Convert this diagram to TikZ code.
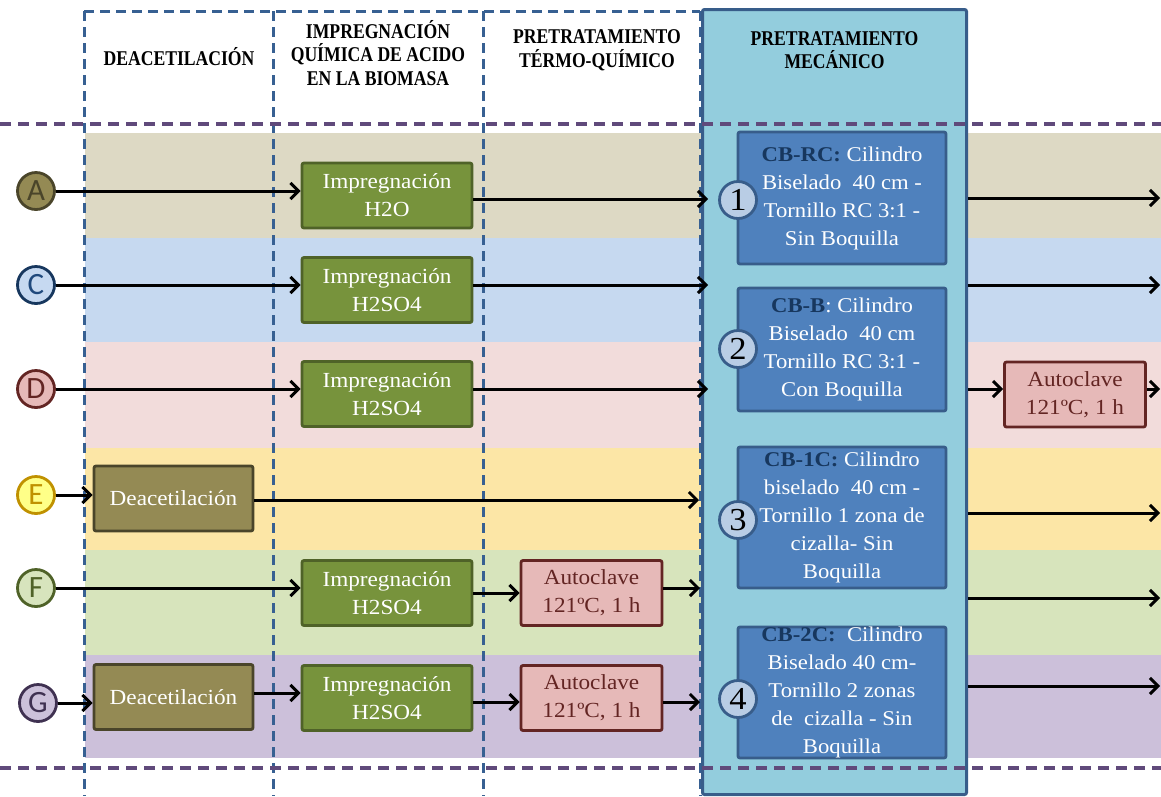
\documentclass[tikz,border=0pt]{standalone}
\usepackage{fontspec}
\setmainfont{Liberation Serif}
\newfontfamily\boxfont{Liberation Serif}[FakeStretch=1.08]
\newfontfamily\headfont{Liberation Serif}[FakeStretch=0.84]
\newfontfamily\letfont{Carlito}
\usetikzlibrary{arrows.meta}

% band and box palette
\definecolor{bandA}{HTML}{DDD9C4}
\definecolor{bandC}{HTML}{C6D9F0}
\definecolor{bandD}{HTML}{F2DCDB}
\definecolor{bandE}{HTML}{FCE6A6}
\definecolor{bandF}{HTML}{D7E4BC}
\definecolor{bandG}{HTML}{CCC0DA}
\definecolor{colline}{HTML}{376092}
\definecolor{rowline}{HTML}{604A7B}
\definecolor{mechfill}{HTML}{93CDDD}
\definecolor{mechdraw}{HTML}{385D8A}
\definecolor{bluefill}{HTML}{4F81BD}
\definecolor{navy}{HTML}{17375E}
\definecolor{numfill}{HTML}{B9CDE5}
\definecolor{grfill}{HTML}{77933C}
\definecolor{grdraw}{HTML}{4F6228}
\definecolor{olfill}{HTML}{948A54}
\definecolor{oldraw}{HTML}{4A452A}
\definecolor{rdfill}{HTML}{E6B9B8}
\definecolor{rddraw}{HTML}{632523}
\definecolor{cfill}{HTML}{C6D9F1}
\definecolor{cdraw}{HTML}{17375E}
\definecolor{ctext}{HTML}{1F497D}
\definecolor{efill}{HTML}{FFFF88}
\definecolor{edraw}{HTML}{C09100}
\definecolor{ffill}{HTML}{D7E4BD}
\definecolor{gfill}{HTML}{CCC1DA}
\definecolor{gdraw}{HTML}{3F3151}

\tikzset{
  vdash/.style={colline, line width=3pt, dash pattern=on 10pt off 6pt},
  hdash/.style={rowline, line width=3.2pt, dash pattern=on 11pt off 7pt},
  headtxt/.style={align=center, font=\headfont\bfseries\fontsize{21}{23.5}\selectfont, inner sep=0pt},
  procbox/.style={draw, rounded corners=2pt, line width=2.8pt, inner sep=0pt, align=center,
    font=\boxfont\fontsize{21.5}{28}\selectfont},
  impbox/.style={procbox, fill=grfill, draw=grdraw, text=white, minimum width=170pt, minimum height=65pt},
  deacbox/.style={procbox, fill=olfill, draw=oldraw, text=white, minimum width=159pt, minimum height=65pt},
  autobox/.style={procbox, fill=rdfill, draw=rddraw, text=rddraw, minimum width=141pt, minimum height=65pt},
  bluebox/.style={procbox, fill=bluefill, draw=mechdraw, text=white, minimum width=208pt,
    font=\boxfont\fontsize{21}{28}\selectfont},
  numc/.style={circle, draw=mechdraw, fill=numfill, line width=2.8pt, minimum size=37pt, inner sep=0pt,
    font=\boxfont\fontsize{32}{32}\selectfont},
  letc/.style={circle, line width=2.8pt, minimum size=37pt, inner sep=0pt,
    font=\letfont\fontsize{31}{31}\selectfont},
  arr/.style={line width=3pt, -{Straight Barb[length=8pt,width=16pt]}},
}

\begin{document}
\begin{tikzpicture}[x=1pt,y=-1pt]
\useasboundingbox (0,0) rectangle (1161,796);

% coloured rows
\fill[bandA] (85,133) rectangle (1161,238);
\fill[bandC] (85,238) rectangle (1161,342);
\fill[bandD] (85,342) rectangle (1161,448);
\fill[bandE] (85,448) rectangle (1161,550);
\fill[bandF] (85,550) rectangle (1161,655);
\fill[bandG] (85,655) rectangle (1161,758);

% stage columns
\draw[vdash] (84,11) -- (700,11);
\draw[vdash] (84,11) -- (84,796);
\draw[vdash] (273,11) -- (273,796);
\draw[vdash] (483,11) -- (483,796);
\draw[vdash] (700,11) -- (700,796);

% mechanical stage panel
\node[draw=mechdraw, fill=mechfill, line width=3pt, rounded corners=2pt,
      minimum width=264pt, minimum height=785pt, inner sep=0pt] (mech) at (834.5,402) {};

% row separators
\draw[hdash] (0,124) -- (1161,124);
\draw[hdash] (0,768) -- (1161,768);

% column headings
\node[headtxt] (hD) at (179,57) {DEACETILACIÓN};
\node[headtxt] (hI) at (378,53) {IMPREGNACIÓN\\QUÍMICA DE ACIDO\\EN LA BIOMASA};
\node[headtxt] (hT) at (597,50) {PRETRATAMIENTO\\TÉRMO-QUÍMICO};
\node[headtxt] (hM) at (834.5,50) {PRETRATAMIENTO\\MECÁNICO};

% sample markers
\node[letc, fill=olfill, draw=oldraw, text=oldraw] (cA) at (36,191) {A};
\node[letc, fill=cfill, draw=cdraw, text=ctext] (cC) at (36,285) {C};
\node[letc, fill=rdfill, draw=rddraw, text=rddraw] (cD) at (36,389) {D};
\node[letc, fill=efill, draw=edraw, text=edraw] (cE) at (36,495) {E};
\node[letc, fill=ffill, draw=grdraw, text=grdraw] (cF) at (36,588) {F};
\node[letc, fill=gfill, draw=gdraw, text=gdraw] (cG) at (38,703) {G};

% deacetylation
\node[deacbox] (dE) at (173.5,498.5) {Deacetilación};
\node[deacbox] (dG) at (173.5,697) {Deacetilación};

% impregnation
\node[impbox] (gA) at (387,195.5) {Impregnación\\H2O};
\node[impbox] (gC) at (387,290) {Impregnación\\H2SO4};
\node[impbox] (gD) at (387,394) {Impregnación\\H2SO4};
\node[impbox] (gF) at (387,593) {Impregnación\\H2SO4};
\node[impbox] (gG) at (387,698) {Impregnación\\H2SO4};

% autoclave
\node[autobox] (aF) at (591.5,593) {Autoclave\\121ºC, 1 h};
\node[autobox] (aG) at (591.5,698) {Autoclave\\121ºC, 1 h};
\node[autobox] (aD) at (1075,394.5) {Autoclave\\121ºC, 1 h};

% mechanical configurations
\node[bluebox, minimum height=132pt] (b1) at (842,198)
  {{\bfseries\color{navy}CB-RC:} Cilindro\\Biselado\ \ 40 cm -\\Tornillo RC 3:1 -\\Sin Boquilla};
\node[bluebox, minimum height=123pt] (b2) at (842,349.5)
  {{\bfseries\color{navy}CB-B}: Cilindro\\Biselado\ \ 40 cm\\Tornillo RC 3:1 -\\Con Boquilla};
\node[bluebox, minimum height=141pt] (b3) at (842,517.5)
  {{\bfseries\color{navy}CB-1C:} Cilindro\\biselado\ \ 40 cm -\\Tornillo 1 zona de\\cizalla- Sin\\Boquilla};
\node[bluebox, minimum height=131pt] (b4) at (842,692.5)
  {{\bfseries\color{navy}CB-2C:}\ \ Cilindro\\Biselado 40 cm-\\Tornillo 2 zonas\\de\ \ cizalla - Sin\\Boquilla};

\node[numc] (n1) at (738,200) {1};
\node[numc] (n2) at (738,349) {2};
\node[numc] (n3) at (738,520) {3};
\node[numc] (n4) at (738,699) {4};

% arrow end points at the mechanical panel and at the right edge
\coordinate (mA) at (708,199);
\coordinate (mC) at (708,285);
\coordinate (mD) at (708,389);
\coordinate (mE) at (699,500);
\coordinate (mF) at (700,588);
\coordinate (mG) at (700,702);
\coordinate (rA) at (1160,198);
\coordinate (rC) at (1160,285);
\coordinate (rD) at (1160,389);
\coordinate (rE) at (1160,513);
\coordinate (rF) at (1160,598);
\coordinate (rG) at (1160,686);

% row A
\draw[arr] (cA.east) -- (cA.east -| gA.west);
\draw[arr] (gA.east |- mA) -- (mA);
\draw[arr] (mech.east |- rA) -- (rA);
% row C
\draw[arr] (cC.east) -- (cC.east -| gC.west);
\draw[arr] (gC.east |- mC) -- (mC);
\draw[arr] (mech.east |- rC) -- (rC);
% row D
\draw[arr] (cD.east) -- (cD.east -| gD.west);
\draw[arr] (gD.east |- mD) -- (mD);
\draw[arr] (mech.east |- rD) -- (rD -| aD.west);
\draw[arr] (aD.east |- rD) -- (rD);
% row E
\draw[arr] (cE.east) -- (cE.east -| dE.west);
\draw[arr] (dE.east |- mE) -- (mE);
\draw[arr] (mech.east |- rE) -- (rE);
% row F
\draw[arr] (cF.east) -- (cF.east -| gF.west);
\draw[arr] (gF.east) -- (aF.west);
\draw[arr] (aF.east |- mF) -- (mF);
\draw[arr] (mech.east |- rF) -- (rF);
% row G
\draw[arr] (cG.east) -- (cG.east -| dG.west);
\draw[arr] (dG.east |- 0,693) -- (gG.west |- 0,693);
\draw[arr] (gG.east |- mG) -- (aG.west |- mG);
\draw[arr] (aG.east |- mG) -- (mG);
\draw[arr] (mech.east |- rG) -- (rG);
\end{tikzpicture}
\end{document}
